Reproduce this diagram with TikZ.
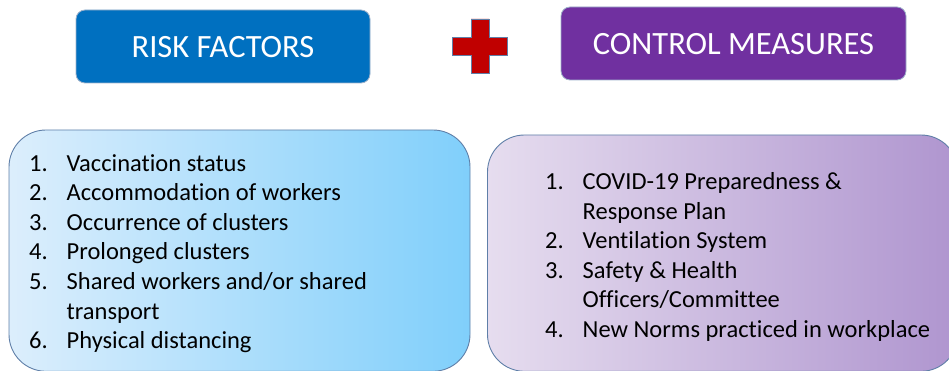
\documentclass[tikz,border=0pt]{standalone}
\usepackage{fontspec}
\setmainfont{Carlito}[Ligatures=NoCommon]
\definecolor{hdrblue}{HTML}{0070C0}
\definecolor{hdrpurple}{HTML}{7030A0}
\definecolor{crossred}{HTML}{C00000}
\definecolor{edgegrey}{HTML}{5F7FA8}
\definecolor{lbleft}{HTML}{DCEEFC}
\definecolor{lbright}{HTML}{80CFFB}
\definecolor{rbleft}{HTML}{E6DDEF}
\definecolor{rbright}{HTML}{AF95CF}
\begin{document}
\begin{tikzpicture}[x=1pt,y=-1pt,
  header/.style={draw=edgegrey!60!white, line width=0.8pt, rounded corners=9pt},
  headtext/.style={text=white, font=\fontsize{32.5}{36}\selectfont},
  listbox/.style={draw=edgegrey, line width=0.9pt, rounded corners=37pt},
  listtext/.style={align=left, inner sep=0pt, text=black, font=\fontsize{24.5}{29.6}\selectfont},
]
\useasboundingbox (0,0) rectangle (949,371);
\clip (0,0) rectangle (949,371);
% headers
\draw[header, fill=hdrblue] (76,10) rectangle (370,83);
\node[headtext] (rf) at (223,47) {RISK FACTORS};
\draw[header, fill=hdrpurple] (561,7) rectangle (906,80);
\node[headtext] (cm) at (733.5,44) {CONTROL MEASURES};
% plus sign
\draw[fill=crossred, draw=edgegrey, line width=0.8pt]
  (471,19) -- (489,19) -- (489,37.5) -- (507,37.5) -- (507,55) -- (489,55) -- (489,73)
  -- (471,73) -- (471,55) -- (452,55) -- (452,37.5) -- (471,37.5) -- cycle;
% list boxes
\draw[listbox, left color=lbleft, right color=lbright] (9,130) rectangle (470,371.3);
\draw[listbox, left color=rbleft, right color=rbright] (487.5,135) rectangle (958,371.3);
% texts
\newcommand{\numitem}[1]{\makebox[37.5pt][l]{#1}}
\node[listtext, anchor=base west] (rlist) at (29,348.6) {%
\numitem{1.}Vaccination status\\
\numitem{2.}Accommodation of workers\\
\numitem{3.}Occurrence of clusters\\
\numitem{4.}Prolonged clusters\\
\numitem{5.}Shared workers and/or shared\\
\numitem{}transport\\
\numitem{6.}Physical distancing};
\node[listtext, anchor=base west] (clist) at (545,337.5) {%
\numitem{1.}COVID-19 Preparedness \&\\
\numitem{}Response Plan\\
\numitem{2.}Ventilation System\\
\numitem{3.}Safety \& Health\\
\numitem{}Officers/Committee\\
\numitem{4.}New Norms practiced in workplace};
\end{tikzpicture}
\end{document}
